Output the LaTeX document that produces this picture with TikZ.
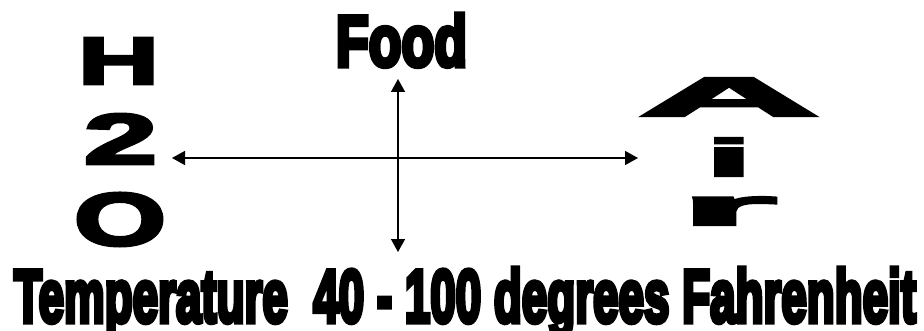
\documentclass[tikz,border=0pt]{standalone}
\usepackage{fontspec}
\usepackage{graphicx}
\setmainfont{Liberation Sans}
\newfontfamily\heavy[FakeBold=4]{Liberation Sans}
\newfontfamily\impactish[FakeBold=7]{Liberation Sans}
\usetikzlibrary{arrows.meta}
\begin{document}
\begin{tikzpicture}[x=1pt,y=1pt,
  glyph/.style={inner sep=0pt, outer sep=0pt, anchor=south west},
  banner/.style={inner sep=0pt, outer sep=0pt, anchor=base west},
  link/.style={line width=1.5pt, {Triangle[length=13pt,width=14pt]}-{Triangle[length=13pt,width=14pt]}}]
\useasboundingbox (0,0) rectangle (924,330);
% H2O column
\node[glyph] (H) at (78,246) {\resizebox*{81pt}{46pt}{\heavy\bfseries H}};
\node[glyph] (two) at (84,166) {\resizebox*{73pt}{50pt}{\heavy\bfseries 2}};
\node[glyph] (O) at (74,84) {\resizebox*{92pt}{53pt}{\heavy\bfseries O}};
% Air column
\node[glyph] (A) at (639,214) {\resizebox*{180pt}{38pt}{\heavy\bfseries A}};
\node[glyph] (i) at (706,154) {\resizebox*{46pt}{38pt}{\heavy\bfseries i}};
\node[glyph] (r) at (681,105) {\resizebox*{95pt}{28pt}{\heavy\bfseries r}};
% Food and temperature
\node[banner] (food) at (336,264) {\resizebox{131pt}{52pt}{\impactish\bfseries Food}};
\node[banner] (temp) at (14,8) {\resizebox{902pt}{54pt}{\impactish\bfseries Temperature\ \ 40 - 100 degrees Fahrenheit}};
% arrows
\coordinate (hl) at (172,172);
\coordinate (hr) at (638,172);
\coordinate (vt) at (398,251);
\coordinate (vb) at (398,78);
\draw[link] (hl) -- (hr);
\draw[link] (vb) -- (vt);
\end{tikzpicture}
\end{document}
